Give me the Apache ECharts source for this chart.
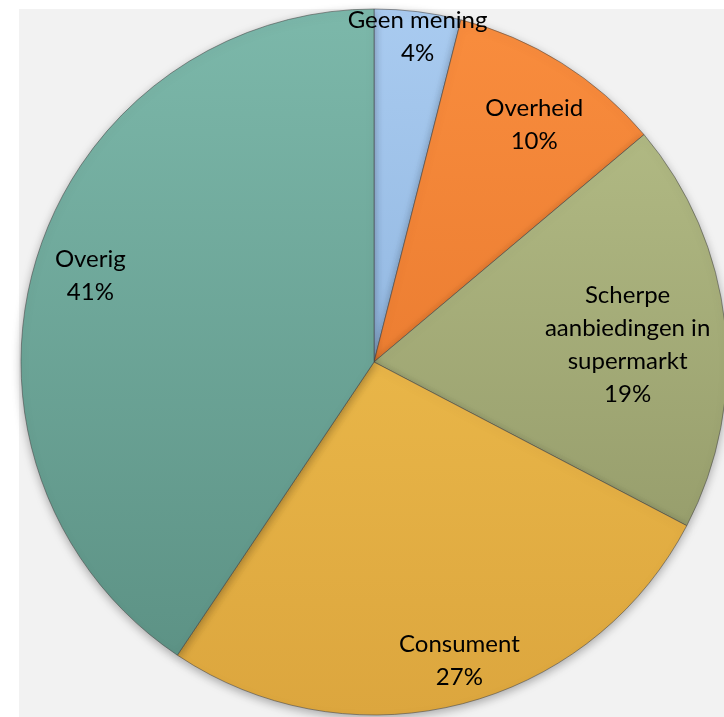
<!DOCTYPE html>
<html>
<head>
<meta charset="utf-8">
<script src="https://cdn.jsdelivr.net/npm/echarts@6/dist/echarts.min.js"></script>
<style>
html,body{margin:0;padding:0;background:#ffffff;}
#chart{width:724px;height:717px;}
</style>
</head>
<body>
<div id="chart"></div>
<script>
// Data
const categories = ['Geen mening', 'Overheid', 'Scherpe\naanbiedingen in\nsupermarkt', 'Consument', 'Overig'];
const values = [4, 10, 19, 27, 41];

// Styles
const topColors = ['#a9cbf0', '#f98d3e', '#b8c18a', '#f5c552', '#7cb8aa'];
const bottomColors = ['#7ea6d3', '#df6f26', '#8c9262', '#dca63e', '#5a8f82'];
const labelRadius = [0.93, 0.81, 0.72, 0.88, 0.84];
const labelAngleShift = [0.5, 2, 2.4, -1.7, 0]; // degrees

const CX = 374, CY = 362, R = 353;
const total = values.reduce((a, b) => a + b, 0);

const chart = echarts.init(document.getElementById('chart'));

const data = categories.map((name, i) => ({
  name: name,
  value: values[i],
  itemStyle: {
    color: new echarts.graphic.LinearGradient(0, CY - R, 0, CY + R, [
      { offset: 0, color: topColors[i] },
      { offset: 1, color: bottomColors[i] }
    ], true)
  }
}));

chart.setOption({
  backgroundColor: '#ffffff',
  animation: false,
  graphic: [{
    type: 'rect',
    z: -10,
    silent: true,
    shape: { x: 19, y: 9, width: 724 - 19, height: 717 - 9 },
    style: { fill: '#f2f2f2' }
  }],
  series: [{
    type: 'pie',
    center: [CX, CY],
    radius: [0, R],
    startAngle: 90,
    clockwise: true,
    avoidLabelOverlap: false,
    data: data,
    itemStyle: {
      borderColor: 'rgba(70,70,70,0.55)',
      borderWidth: 1,
      shadowBlur: 10,
      shadowColor: 'rgba(0,0,0,0.3)',
      shadowOffsetY: 3
    },
    label: {
      show: true,
      position: 'inside',
      formatter: function (p) { return p.name + '\n' + p.value + '%'; },
      color: '#000000',
      fontFamily: 'Lato',
      fontSize: 24,
      lineHeight: 33,
      align: 'center'
    },
    labelLine: { show: false },
    labelLayout: function (p) {
      const i = p.dataIndex;
      let cum = 0;
      for (let j = 0; j < i; j++) cum += values[j];
      const mid = (cum + values[i] / 2) / total * Math.PI * 2 + labelAngleShift[i] * Math.PI / 180;
      const r = R * labelRadius[i];
      return {
        x: CX + r * Math.sin(mid),
        y: CY - r * Math.cos(mid),
        align: 'center',
        verticalAlign: 'middle'
      };
    },
    emphasis: { disabled: true }
  }]
});
</script>
</body>
</html>
